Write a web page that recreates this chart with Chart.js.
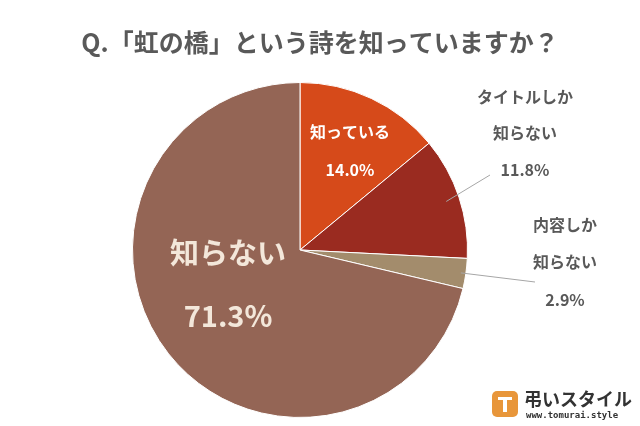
<!DOCTYPE html>
<html><head><meta charset="utf-8">
<script src="https://cdn.jsdelivr.net/npm/chart.js@4"></script>
<style>html,body{margin:0;padding:0;background:#fff}#wrap{width:640px;height:426px}</style>
</head><body><div id="wrap"><canvas id="c"></canvas></div>
<script>
const labels = ['知っている', 'タイトルしか知らない', '内容しか知らない', '知らない'];
const values = [14.0, 11.8, 2.9, 71.3];
const colors = ['#D64A1A', '#9A2B20', '#A38C6C', '#946555'];

const FONT = '"Noto Sans CJK JP", "Noto Sans", sans-serif';

const decor = {
  id: 'decor',
  afterDraw(chart) {
    const ctx = chart.ctx;
    const arcs = chart.getDatasetMeta(0).data;
    ctx.save();
    ctx.textAlign = 'center';
    ctx.textBaseline = 'middle';
    // title
    ctx.fillStyle = '#595959';
    ctx.font = 'bold 25px ' + FONT;
    ctx.fillText('Q.「虹の橋」という詩を知っていますか？', 320, 42);

    // inside labels
    ctx.fillStyle = '#ffffff';
    ctx.font = 'bold 16px ' + FONT;
    ctx.fillText('知っている', 350, 132);
    ctx.fillText(values[0].toFixed(1) + '%', 350, 170);
    ctx.fillStyle = '#F3E7DA';
    ctx.font = 'bold 29px ' + FONT;
    ctx.fillText('知らない', 228, 253);
    ctx.fillText(values[3].toFixed(1) + '%', 228, 316);

    // outside labels
    ctx.fillStyle = '#595959';
    ctx.font = 'bold 16px ' + FONT;
    ctx.fillText('タイトルしか', 525, 97);
    ctx.fillText('知らない', 525, 133);
    ctx.fillText(values[1].toFixed(1) + '%', 525, 170);
    ctx.fillText('内容しか', 565, 225);
    ctx.fillText('知らない', 565, 262);
    ctx.fillText(values[2].toFixed(1) + '%', 565, 300);

    // leader lines
    ctx.strokeStyle = '#A6A6A6';
    ctx.lineWidth = 1;
    const edge = (a, f) => {
      const mid = (a.startAngle + a.endAngle) / 2;
      return [a.x + Math.cos(mid) * a.outerRadius * f, a.y + Math.sin(mid) * a.outerRadius * f];
    };
    let p = edge(arcs[1], 0.92);
    ctx.beginPath(); ctx.moveTo(p[0], p[1]); ctx.lineTo(490, 175); ctx.stroke();
    p = edge(arcs[2], 0.97);
    ctx.beginPath(); ctx.moveTo(p[0], p[1]); ctx.lineTo(535, 282); ctx.stroke();

    // logo
    ctx.fillStyle = '#E8963A';
    ctx.beginPath();
    ctx.roundRect(492, 391, 26, 26, 5);
    ctx.fill();
    ctx.fillStyle = '#fff';
    ctx.fillRect(498, 397, 14, 3);
    ctx.fillRect(503, 400, 4, 12);
    ctx.fillStyle = '#333333';
    ctx.textAlign = 'left';
    ctx.font = 'bold 18px ' + FONT;
    ctx.fillText('弔いスタイル', 524, 399);
    ctx.font = 'bold 9px "DejaVu Sans Mono", monospace';
    ctx.fillText('www.tomurai.style', 526, 416);
    ctx.restore();
  }
};

new Chart(document.getElementById('c'), {
  type: 'pie',
  data: { labels, datasets: [{ data: values, backgroundColor: colors, borderWidth: 1, borderColor: '#ffffff' }] },
  options: {
    responsive: true,
    maintainAspectRatio: false,
    animation: false,
    layout: { padding: { top: 82, bottom: 8, left: 0, right: 40 } },
    plugins: { legend: { display: false }, tooltip: { enabled: false } }
  },
  plugins: [decor]
});
</script></body></html>
